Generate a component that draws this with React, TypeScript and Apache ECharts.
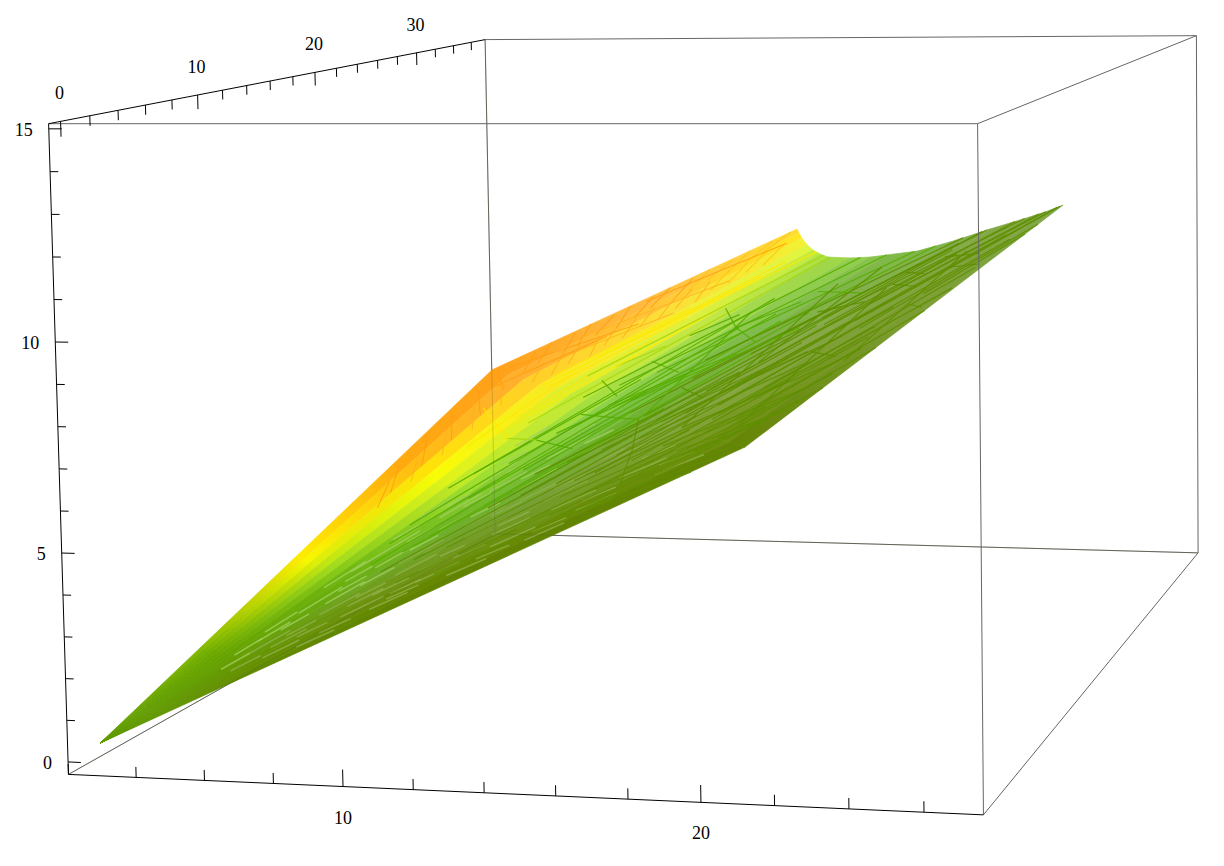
import React, { useEffect, useRef } from "react";
import * as echarts from "echarts";

// ---- plotted values (axis units) ----
const xRange = [2, 27.57];
const yRange = [-0.8, 37.6];
const zRange = [-0.3, 15.12];
const xTicks = [2, 4, 6, 8, 10, 12, 14, 16, 18, 20, 22, 24, 26];
const yTicks = [0, 2, 4, 6, 8, 10, 12, 14, 16, 18, 20, 22, 24, 26, 28, 30, 32, 34, 36];
const zTicks = [0, 1, 2, 3, 4, 5, 6, 7, 8, 9, 10, 11, 12, 13, 14, 15];
const xLabels = [10, 20];
const yLabels = [0, 10, 20, 30];
const zLabels = [0, 5, 10, 15];

const tipPoint = [2.62, 0, 0.32];
const creaseX = [2.85, 4.14, 5.4, 6.65, 7.88, 9.08, 10.27, 11.44, 12.59, 13.73, 14.84, 15.94, 17.01, 18.07, 19.11, 20.13, 21.13];
const creaseY = [35, 32.8, 30.6, 28.4, 26.3, 24.1, 21.9, 19.7, 17.5, 15.3, 13.1, 10.9, 8.75, 6.6, 4.4, 2.2, 0];
const creaseZ = [5.17, 5.29, 5.43, 5.56, 5.7, 5.85, 6.0, 6.15, 6.31, 6.48, 6.65, 6.82, 7.0, 7.18, 7.36, 7.56, 7.75];
const farX = [14.05, 14.12, 14.22, 14.4, 14.61, 14.86, 15.14, 15.92, 16.63, 17.23, 18.29, 19.45, 20.32, 20.84, 21.99, 22.75, 23.38];
const farY = 35;
const farZ = [9.55, 9.43, 9.28, 9.08, 8.93, 8.81, 8.72, 8.7, 8.73, 8.8, 8.92, 9.2, 9.44, 9.59, 9.89, 10.1, 10.31];

// mesh edges on the surface: [across0, along0, across1, along1]
const meshEdges = [
  [.30,.9,.38,2],[.33,.7,.42,1.7],[.36,1,.47,2],[.38,.6,.46,1.5],[.40,1.1,.56,2],[.42,.8,.50,1.6],[.44,1.2,.62,2],[.46,.7,.56,1.55],
  [.48,1,.66,2],[.50,.8,.60,1.6],[.52,1.3,.72,2],[.54,.6,.63,1.45],[.55,1,.70,1.85],[.57,1.2,.80,2],[.59,.7,.68,1.5],[.60,1,.76,1.9],
  [.62,1.35,.88,2],[.63,.75,.72,1.4],[.65,1,.82,1.85],[.66,1.15,.92,2],[.68,.8,.78,1.5],[.70,1.05,.90,1.9],[.71,.9,.82,1.6],[.73,1.2,.98,2],
  [.74,.85,.86,1.55],[.76,1.1,.95,1.85],[.78,.9,.89,1.45],[.80,1.05,.97,1.7],[.81,.88,.92,1.4],[.83,1.15,.99,1.6],[.84,.9,.95,1.35],[.86,1.05,1,1.5],
  [.87,.85,.97,1.25],[.89,1,1,1.35],[.90,.8,.98,1.15],[.92,.95,1,1.2],
  [.45,1.5,.58,1.42],[.52,1.75,.66,1.7],[.62,1.6,.72,1.62],[.7,1.8,.8,1.75],[.38,1.25,.5,1.22],[.33,1.1,.44,1.05],[.8,1.35,.9,1.32],[.58,1.15,.68,1.12],[.86,1.75,.96,1.72],
  [.75,1.0,.55,1.8],[.9,1.05,.72,1.7],[.6,1.0,.42,1.6],[.95,1.3,.84,1.85],[.68,1.3,.6,1.9],
  [.35,.75,.43,1.15],[.41,.55,.5,1.1],[.47,.5,.55,1],[.53,.55,.62,1.05],[.58,.5,.66,.95],[.64,.55,.74,1.05],[.69,.6,.78,1],[.75,.5,.84,.95],[.8,.6,.9,1],[.85,.55,.94,.9],
  [.7,1.5,.86,2],[.75,1.6,.94,2],[.66,1.55,.78,2],[.8,1.5,.99,2],[.62,1.45,.74,1.95],[.85,1.45,1,1.9],[.9,1.6,1,1.85],
  [.78,1.85,.9,1.8],[.72,1.72,.84,1.66],[.9,1.55,.97,1.52],
  [.69,.95,.84,1.3],[.72,.82,.86,1.22],[.75,1,.93,1.3],[.77,.78,.9,1.12],[.79,.95,.95,1.2],[.82,.8,.96,1.08],[.85,.95,.98,1.12],[.88,.75,.99,.98],[.91,.88,.99,1.02],[.93,.78,1,.92],
  [.56,.8,.67,1.25],[.6,.85,.74,1.3],[.64,.9,.79,1.35],[.67,1.0,.83,1.42],[.5,1.05,.64,1.5],[.46,1.0,.58,1.35],[.43,.9,.54,1.25],
  [.42,.96,.55,.98],[.55,.98,.6,.99],[.6,.99,.73,.92],[.73,.92,.87,.85],
  [.1,.9,.3,.85],[.3,.85,.4,.87],[.4,.87,.55,.88],[.32,1.6,.45,1.5],[.45,1.5,.52,1.68],[.36,1.42,.4,1.58],[.3,1.18,.34,1.34],
  [.2,1,.24,1.8],[.24,.85,.3,1.6],[.27,1.1,.34,2],[.22,1.35,.28,2],
];
// streaks of the bright band next to the upper edge
const ridgeStreaks = [
  [.16,1.0,.09,1.1],[.17,1.06,.1,1.16],[.16,1.13,.09,1.23],[.18,1.19,.1,1.29],[.16,1.26,.09,1.36],[.17,1.32,.1,1.42],[.16,1.39,.09,1.49],[.17,1.45,.1,1.55],[.16,1.52,.09,1.62],[.18,1.58,.1,1.68],[.16,1.65,.09,1.75],[.17,1.71,.1,1.81],[.16,1.78,.09,1.88],[.17,1.84,.1,1.94],
  [.09,1.03,.01,1.14],[.08,1.09,.0,1.2],[.1,1.16,.01,1.27],[.09,1.22,.0,1.33],[.08,1.29,.01,1.4],[.1,1.35,.0,1.46],[.09,1.42,.01,1.53],[.08,1.48,.0,1.59],[.1,1.55,.01,1.66],[.09,1.61,.0,1.72],[.08,1.68,.01,1.79],[.1,1.74,.0,1.85],[.09,1.81,.01,1.92],[.08,1.87,.0,1.98],
  [.03,1.04,.14,1.4],[.05,1.25,.16,1.72],[.02,1.5,.1,1.95],[.08,1.0,.18,1.5],[.06,.96,.12,1.3],
  [.14,.6,.06,.66],[.12,.64,.03,.7],[.15,.68,.06,.74],[.12,.72,.03,.78],[.15,.76,.06,.82],[.12,.8,.02,.86],[.15,.84,.06,.9],[.12,.88,.02,.94],[.15,.92,.06,.98],[.1,.96,.01,1.01],
  [.22,1.0,.25,1.5],[.2,1.2,.23,1.9],[.24,.9,.27,1.35],[.18,1.05,.2,1.55],[.2,.8,.22,1.1],
];
// lighter slivers between the dense mesh edges near the tip
const meshSlivers = [
  [.40,.42,.42,.50],[.48,.36,.50,.44],[.56,.40,.58,.47],[.64,.38,.66,.45],[.72,.42,.74,.48],[.80,.40,.82,.47],[.88,.44,.90,.50],
  [.44,.52,.46,.60],[.52,.50,.54,.57],[.60,.53,.62,.61],[.68,.51,.70,.58],[.76,.54,.78,.60],[.84,.52,.86,.59],[.92,.56,.94,.62],
  [.38,.62,.40,.69],[.46,.64,.48,.72],[.54,.62,.56,.70],[.62,.65,.64,.72],[.70,.63,.72,.70],[.78,.66,.80,.72],[.86,.64,.88,.71],[.94,.68,.95,.74],
  [.42,.74,.44,.81],[.50,.73,.52,.80],[.58,.75,.60,.83],[.66,.74,.68,.81],[.74,.76,.76,.83],[.82,.75,.84,.82],[.90,.77,.92,.83],
  [.36,.84,.38,.91],[.44,.86,.46,.93],[.52,.84,.54,.92],[.60,.87,.62,.94],[.68,.85,.70,.92],[.76,.88,.78,.95],[.84,.86,.86,.93],[.92,.89,.94,.96],
  [.50,.28,.52,.34],[.60,.26,.62,.33],[.70,.29,.72,.35],[.80,.27,.82,.33],[.44,.30,.46,.36],[.90,.32,.92,.38],
  [.47,.45,.49,.50],[.59,.46,.61,.52],[.75,.46,.77,.52],[.86,.47,.88,.52],[.55,.56,.57,.61],[.73,.58,.75,.62],[.49,.68,.51,.73],[.65,.69,.67,.74],[.83,.69,.85,.74],
  [.42,.47,.44,.52],[.52,.43,.54,.48],[.68,.44,.70,.49],[.82,.48,.84,.53],[.40,.56,.42,.61],[.48,.57,.50,.62],[.64,.57,.66,.62],[.80,.59,.82,.64],[.90,.61,.92,.66],
  [.42,.66,.44,.71],[.58,.67,.60,.72],[.74,.68,.76,.73],[.90,.70,.92,.75],[.46,.78,.48,.83],[.54,.78,.56,.83],[.70,.79,.72,.84],[.86,.79,.88,.84],[.40,.79,.42,.84],
  [.48,.90,.50,.95],[.56,.90,.58,.95],[.64,.90,.66,.95],[.72,.90,.74,.95],[.80,.91,.82,.96],[.88,.91,.90,.96],
  [.54,.32,.56,.37],[.66,.32,.68,.37],[.76,.33,.78,.38],[.86,.36,.88,.41],[.48,.24,.50,.29],[.58,.21,.60,.26],[.72,.22,.74,.27],
];

// ---- camera and colours (drawing setup, not data) ----
const cam = [33.1704, 15.0611, -1.3215, 13.0391, -0.2797, -1.8066, -41.8659, 752.5875, -0.0022634, 0.0082258, -0.0009912];
const project = (X: number, Y: number, Z: number) => {
  const w = cam[8] * X + cam[9] * Y + cam[10] * Z + 1;
  return [(cam[0] * X + cam[1] * Y + cam[2] * Z + cam[3]) / w, (cam[4] * X + cam[5] * Y + cam[6] * Z + cam[7]) / w];
};
const bandColors = [
  ["#5f9a00", "#5f9a00", "#5f9a00", "#5f9a00", "#5f9a00", "#5f9a00", "#5f9a00", "#5f9a00", "#5f9a00", "#5f9a00", "#5f9a00"],
  ["#84bc00", "#74b000", "#6caa00", "#68a500", "#66a200", "#66a000", "#649a00", "#649600", "#649200", "#648e00", "#5f8800"],
  ["#ffe800", "#f8f800", "#c8e810", "#98d820", "#70b810", "#68b010", "#70a828", "#709818", "#6f9010", "#658800", "#5f8000"],
  ["#ffa010", "#ffc010", "#ffff00", "#d8f020", "#a0e030", "#78c030", "#70b030", "#78a038", "#709820", "#6a8c08", "#5f8000"],
  ["#ff9a10", "#ffb030", "#ffe820", "#d8f030", "#a8e040", "#80c850", "#70b030", "#88a848", "#7f9f30", "#6f9010", "#5f8000"],
  ["#ffb848", "#ffc838", "#f8f038", "#d8f040", "#a8dc50", "#80c050", "#80b048", "#88a848", "#82a440", "#7c9c30", "#7a9c30"],
  ["#ffd840", "#ffe820", "#e8f840", "#b8e840", "#a0d848", "#8cc850", "#80b848", "#82b050", "#84aa48", "#84a848", "#80a848"],
];
const rgb = (h: string) => [1, 3, 5].map((i) => parseInt(h.slice(i, i + 2), 16));
const colorAt = (row: number, s: number) => {
  const c = bandColors[row];
  const p = s * 10, i = Math.min(9, Math.floor(p)), f = p - i;
  const a = rgb(c[i]), b = rgb(c[i + 1]);
  return `rgb(${a.map((v, k) => Math.round(v + (b[k] - v) * f)).join(",")})`;
};
const surfacePoint = (s: number, t: number) => {
  const q = Math.min(15.9999, Math.max(0, s * 16)), i = Math.floor(q), f = q - i;
  const mix = (a: number[]) => a[i] + (a[i + 1] - a[i]) * f;
  const crease = [mix(creaseX), mix(creaseY), mix(creaseZ)];
  if (t <= 1) return project(...(tipPoint.map((v, k) => v + (crease[k] - v) * t) as [number, number, number]));
  const far = [mix(farX), farY, mix(farZ)];
  return project(...(crease.map((v, k) => v + (far[k] - v) * (t - 1)) as [number, number, number]));
};

const edge = (a: number[], b: number[], dark = false) => ({ a, b, color: dark ? "#000" : "#666" });
const [x0, x1] = xRange, [y0, y1] = yRange, [z0, z1] = zRange;
const backEdges = [edge([x0, y1, z1], [x0, y1, z0]), edge([x0, y1, z0], [x1, y1, z0]), edge([x0, y0, z0], [x0, y1, z0])];
const frontEdges = [
  edge([x0, y0, z1], [x1, y0, z1]), edge([x1, y0, z1], [x1, y0, z0]), edge([x0, y1, z1], [x1, y1, z1]),
  edge([x1, y1, z1], [x1, y1, z0]), edge([x1, y0, z0], [x1, y1, z0]), edge([x1, y0, z1], [x1, y1, z1]),
  edge([x0, y0, z0], [x1, y0, z0], true), edge([x0, y0, z1], [x0, y1, z1], true), edge([x0, y0, z0], [x0, y0, z1], true),
];

export default function App() {
  const ref = useRef<HTMLDivElement>(null);
  useEffect(() => {
    const chart = echarts.init(ref.current!, null, { renderer: "svg" });
    const segment = (api: any, p: number[], q: number[], stroke: string, lineWidth = 1, opacity = 1) => {
      const a = api.coord(p), b = api.coord(q);
      return { type: "line", shape: { x1: a[0], y1: a[1], x2: b[0], y2: b[1] }, style: { stroke, lineWidth, opacity, fill: null } };
    };
    const edgeRender = (list: any[], opacity: number, color?: string) => (_: any, api: any) => {
      const e = list[api.value(0)];
      return segment(api, project(e.a[0], e.a[1], e.a[2]), project(e.b[0], e.b[1], e.b[2]), color || e.color, 1, opacity);
    };
    const idx = (n: number) => Array.from({ length: n }, (_, i) => [i]);
    const base = { type: "custom", coordinateSystem: "cartesian2d", clip: false, silent: true, xAxisIndex: 0, yAxisIndex: 0 };
    const strips: number[][] = [];
    for (let i = 0; i < 16; i++) { strips.push([i, 0]); strips.push([i, 1]); }
    const ticks: number[][] = [
      ...xTicks.map((v) => [0, v]), ...yTicks.map((v) => [1, v]), ...zTicks.map((v) => [2, v]),
    ];
    const labels: number[][] = [
      ...xLabels.map((v) => [0, v]), ...yLabels.map((v) => [1, v]), ...zLabels.map((v) => [2, v]),
    ];
    chart.setOption({
      animation: false,
      grid: { left: 0, right: 0, top: 0, bottom: 0 },
      xAxis: { type: "value", min: 0, max: 1224, show: false },
      yAxis: { type: "value", min: 0, max: 866, inverse: true, show: false },
      series: [
        { ...base, z: 1, data: idx(backEdges.length), renderItem: edgeRender(backEdges, 1) },
        {
          ...base, z: 2, data: strips,
          renderItem: (_: any, api: any) => {
            const i = api.value(0), far = api.value(1) === 1;
            const sm = (i + 0.5) / 16;
            const c0 = [creaseX[i], creaseY[i], creaseZ[i]], c1 = [creaseX[i + 1], creaseY[i + 1], creaseZ[i + 1]];
            const f0 = [farX[i], farY, farZ[i]], f1 = [farX[i + 1], farY, farZ[i + 1]];
            const pts3 = far ? [c0, f0, f1, c1] : [tipPoint, c0, c1];
            const pts = pts3.map((q) => api.coord(project(q[0], q[1], q[2])));
            const mid = (a: number[], b: number[]) => [(a[0] + b[0]) / 2, (a[1] + b[1]) / 2];
            const start = far ? mid(pts[0], pts[3]) : pts[0];
            const end = mid(pts[1], pts[2]);
            const rows = far ? [4, 5, 6] : [0, 1, 2, 3, 4];
            const stops = rows.map((r, k) => ({ offset: k / (rows.length - 1), color: colorAt(r, sm) }));
            const fill = new echarts.graphic.LinearGradient(start[0], start[1], end[0], end[1], stops, true);
            return { type: "polygon", shape: { points: pts }, style: { fill, stroke: fill, lineWidth: 0.7 } };
          },
        },
        {
          ...base, z: 3, data: meshSlivers,
          renderItem: (_: any, api: any) => {
            const s = api.value(0);
            return segment(api, surfacePoint(s, api.value(1)), surfacePoint(api.value(2), api.value(3)), s < 0.6 ? "#a2d060" : "#90b04c", 1.5, 0.8);
          },
        },
        {
          ...base, z: 4, data: ridgeStreaks,
          renderItem: (_: any, api: any) => {
            const s = (api.value(0) + api.value(2)) / 2, t = api.value(1);
            const col = s > 0.17 ? "#ffe600" : t > 1.6 ? "#ffc410" : s > 0.1 ? "#ffb020" : "#ff9c10";
            return segment(api, surfacePoint(api.value(0), t), surfacePoint(api.value(2), api.value(3)), col, 1.1, 0.8);
          },
        },
        {
          ...base, z: 5, data: meshEdges,
          renderItem: (_: any, api: any) => {
            const s = (api.value(0) + api.value(2)) / 2;
            const col = s < 0.3 ? "#ffe800" : s < 0.36 ? "#a8d810" : s < 0.6 ? "#58ac00" : "#5f8f00";
            return segment(api, surfacePoint(api.value(0), api.value(1)), surfacePoint(api.value(2), api.value(3)), col, 1.2, 0.92);
          },
        },
        { ...base, z: 6, data: idx(backEdges.length), renderItem: edgeRender(backEdges, 0.25, "#556030") },
        { ...base, z: 7, data: idx(frontEdges.length), renderItem: edgeRender(frontEdges, 1) },
        {
          ...base, z: 8, data: ticks,
          renderItem: (_: any, api: any) => {
            const axis = api.value(0), v = api.value(1);
            if (axis === 0) {
              const len = v % 10 === 0 ? 0.4 : 0.25;
              return segment(api, project(v, y0, z0), project(v, y0, z0 + len), "#000");
            }
            if (axis === 1) {
              const len = v % 10 === 0 ? 0.36 : 0.24;
              return segment(api, project(x0, v, z1), project(x0, v, z1 - len), "#000");
            }
            const len = v % 5 === 0 ? 0.38 : 0.24;
            return segment(api, project(x0, y0, v), project(x0 + len, y0, v), "#000");
          },
        },
        {
          ...base, z: 9, data: labels,
          renderItem: (_: any, api: any) => {
            const axis = api.value(0), v = api.value(1);
            const p = axis === 0 ? project(v, y0, z0) : axis === 1 ? project(x0, v, z1) : project(x0, y0, v);
            const c = api.coord(p);
            const off = axis === 0 ? [0, 31] : axis === 1 ? [-1, -28] : [-16, 1];
            return {
              type: "text",
              style: {
                text: String(v), x: c[0] + off[0], y: c[1] + off[1], fill: "#000",
                font: '18px "Liberation Serif"', align: axis === 2 ? "right" : "center", verticalAlign: "middle",
              },
            };
          },
        },
      ],
    });
    return () => chart.dispose();
  }, []);
  return <div ref={ref} style={{ position: "fixed", left: 0, top: 0, width: 1224, height: 866, background: "#fff" }} />;
}
